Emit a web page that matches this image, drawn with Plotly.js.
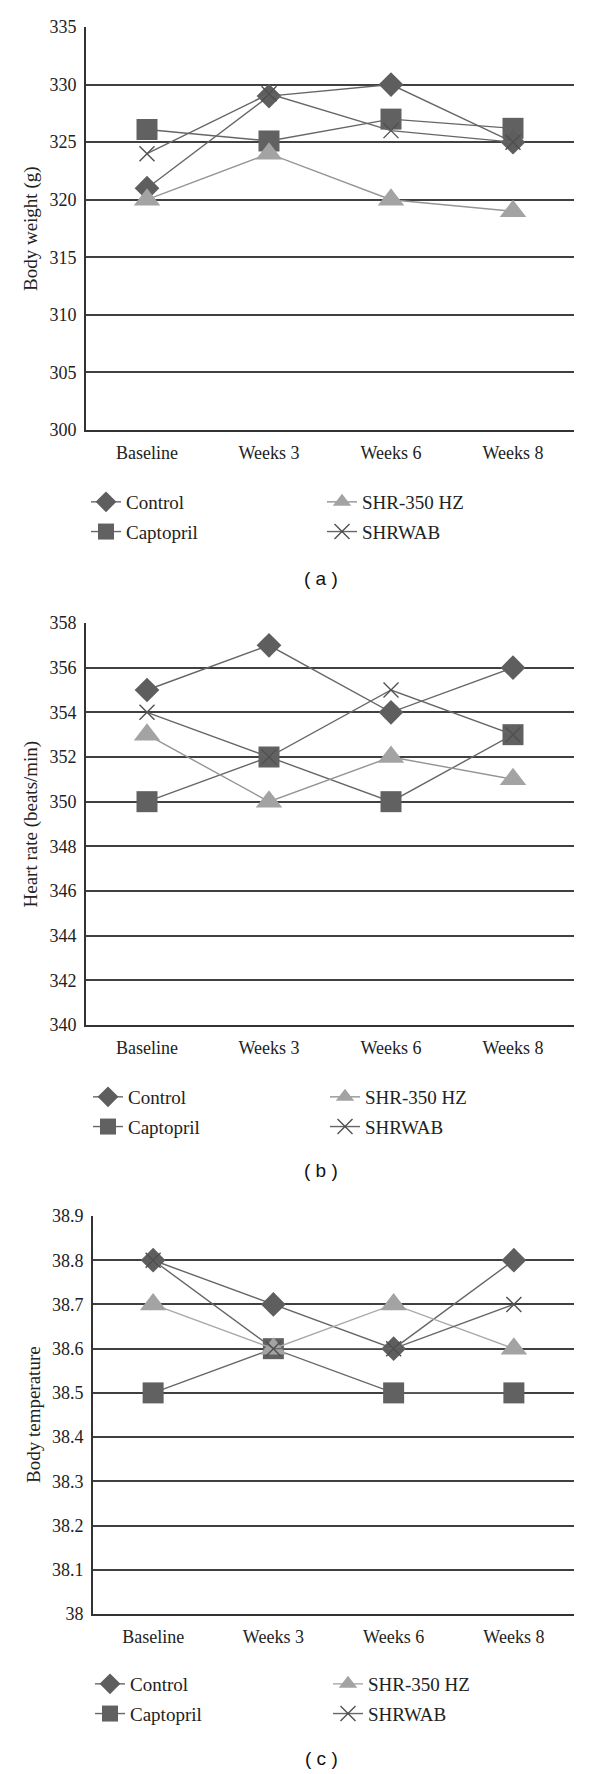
<!DOCTYPE html>
<html><head><meta charset="utf-8">
<script src="https://cdn.plot.ly/plotly-3.0.1.min.js"></script>
<style>html,body{margin:0;padding:0;background:#fff}</style>
</head><body><div id="chart" style="width:600px;height:1774px"></div>
<script>
// ---- data ----
const categories = ['Baseline', 'Weeks 3', 'Weeks 6', 'Weeks 8'];
const seriesNames = ['Control', 'Captopril', 'SHR-350 HZ', 'SHRWAB'];

const weightControl   = [321, 329, 330, 325];
const weightCaptopril = [326.1, 325.1, 327, 326.2];
const weightSHR350    = [320, 324, 320, 319];
const weightSHRWAB    = [324, 329.2, 326, 325];

const heartControl   = [355, 357, 354, 356];
const heartCaptopril = [350, 352, 350, 353];
const heartSHR350    = [353, 350, 352, 351];
const heartSHRWAB    = [354, 352, 355, 353];

const tempControl   = [38.8, 38.7, 38.6, 38.8];
const tempCaptopril = [38.5, 38.6, 38.5, 38.5];
const tempSHR350    = [38.7, 38.6, 38.7, 38.6];
const tempSHRWAB    = [38.8, 38.6, 38.6, 38.7];

const weightTicks = [300, 305, 310, 315, 320, 325, 330, 335];
const heartTicks  = [340, 342, 344, 346, 348, 350, 352, 354, 356, 358];
const tempTicks   = [38, 38.1, 38.2, 38.3, 38.4, 38.5, 38.6, 38.7, 38.8, 38.9];
const tempTickText = ['38', '38.1', '38.2', '38.3', '38.4', '38.5', '38.6', '38.7', '38.8', '38.9'];

const yTitles = ['Body weight (g)', 'Heart rate (beats/min)', 'Body temperature'];
const panelLabels = ['( a )', '( b )', '( c )'];

// ---- styles ----
const W = 600, H = 1774;
const SERIF = 'Liberation Serif, Times New Roman, serif';
const SANS = 'Liberation Sans, Arial, sans-serif';
const styles = {
  'Control':    {symbol: 'diamond', size: 19, color: '#5e5e5e', line: '#666666', lw: 1.4},
  'Captopril':  {symbol: 'square', size: 21, color: '#616161', line: '#666666', lw: 1.4},
  'SHR-350 HZ': {symbol: 'triangle-up', size: 23, color: '#a3a3a3', line: '#949494', lw: 1.4},
  'SHRWAB':     {symbol: 'x-thin-open', size: 15, color: '#505050', line: '#666666', lw: 1.4}
};
const drawOrder = ['Captopril', 'Control', 'SHR-350 HZ', 'SHRWAB'];

const panels = [
  {vals: {'Control': weightControl, 'Captopril': weightCaptopril, 'SHR-350 HZ': weightSHR350, 'SHRWAB': weightSHRWAB},
   range: [300, 335], ticks: weightTicks, tickText: weightTicks.map(String),
   left: 86, right: 574, top: 27, bottom: 430, legRows: [499, 529], legX: [86, 322], titleX: 30.5, labelY: 578},
  {vals: {'Control': heartControl, 'Captopril': heartCaptopril, 'SHR-350 HZ': heartSHR350, 'SHRWAB': heartSHRWAB},
   range: [340, 358], ticks: heartTicks, tickText: heartTicks.map(String),
   left: 86, right: 574, top: 623, bottom: 1025, legRows: [1094, 1124], legX: [88, 325], titleX: 30.5, labelY: 1170},
  {vals: {'Control': tempControl, 'Captopril': tempCaptopril, 'SHR-350 HZ': tempSHR350, 'SHRWAB': tempSHRWAB},
   range: [38, 38.9], ticks: tempTicks, tickText: tempTickText,
   left: 93, right: 574, top: 1216, bottom: 1614, legRows: [1681, 1710], legX: [90, 328], titleX: 33, labelY: 1758}
];

const traces = [];
const layout = {
  width: W, height: H,
  margin: {l: 0, r: 0, t: 0, b: 0},
  paper_bgcolor: '#fff', plot_bgcolor: '#fff',
  showlegend: true,
  annotations: []
};

panels.forEach((p, i) => {
  const n = i === 0 ? '' : String(i + 1);
  const xa = 'xaxis' + n, ya = 'yaxis' + n;
  const legL = 'legend' + (i === 0 ? '' : String(i * 2 + 1));
  const legR = 'legend' + String(i * 2 + 2);
  layout[xa] = {
    domain: [p.left / W, p.right / W],
    anchor: 'y' + n,
    type: 'category',
    range: [-0.5, 3.5],
    showgrid: false, zeroline: false,
    showline: true, linecolor: '#333', linewidth: 2,
    ticks: '', ticklabelstandoff: 5,
    tickfont: {family: SERIF, size: 18, color: '#222'},
    fixedrange: true
  };
  layout[ya] = {
    domain: [1 - p.bottom / H, 1 - p.top / H],
    anchor: 'x' + n,
    range: p.range,
    tickmode: 'array', tickvals: p.ticks, ticktext: p.tickText,
    showgrid: true, gridcolor: '#404040', gridwidth: 2,
    zeroline: false,
    showline: true, linecolor: '#333', linewidth: 2,
    ticks: '', ticklabelstandoff: 4,
    tickfont: {family: SERIF, size: 18, color: '#222'},
    fixedrange: true
  };
  const legBase = {
    orientation: 'v', xanchor: 'left', yanchor: 'top',
    font: {family: SERIF, size: 19, color: '#222'},
    bgcolor: 'rgba(0,0,0,0)', borderwidth: 0,
    traceorder: 'grouped', tracegroupgap: 2
  };
  layout[legL] = Object.assign({}, legBase, {x: p.legX[0] / W, y: 1 - (p.legRows[0] - 16) / H});
  layout[legR] = Object.assign({}, legBase, {x: p.legX[1] / W, y: 1 - (p.legRows[0] - 16) / H});

  drawOrder.forEach(name => {
    const s = styles[name];
    const col = (name === 'Control' || name === 'Captopril') ? legL : legR;
    const rank = seriesNames.indexOf(name);
    const isX = s.symbol.indexOf('open') >= 0;
    traces.push({
      type: 'scatter', mode: 'lines+markers',
      name: name,
      x: categories, y: p.vals[name],
      xaxis: 'x' + n, yaxis: 'y' + n,
      legend: col, legendgroup: 'p' + i + name, legendrank: rank,
      line: {color: (i === 2 && name === 'SHR-350 HZ') ? '#a8a8a8' : s.line, width: s.lw},
      marker: {symbol: s.symbol, size: s.size, color: s.color,
               line: {color: s.color, width: isX ? 1.4 : 0}},
      cliponaxis: false,
      hoverinfo: 'skip'
    });
  });

  layout.annotations.push({
    text: yTitles[i], textangle: -90,
    x: p.titleX / W, y: 1 - ((p.top + p.bottom) / 2) / H,
    xref: 'paper', yref: 'paper', xanchor: 'center', yanchor: 'middle',
    showarrow: false, font: {family: SERIF, size: 19, color: '#222'}
  });
  layout.annotations.push({
    text: panelLabels[i],
    x: 321 / W, y: 1 - p.labelY / H,
    xref: 'paper', yref: 'paper', xanchor: 'center', yanchor: 'middle',
    showarrow: false, font: {family: SANS, size: 19, color: '#111'}
  });
});

Plotly.newPlot('chart', traces, layout, {staticPlot: true, displayModeBar: false});
</script>
</body></html>
